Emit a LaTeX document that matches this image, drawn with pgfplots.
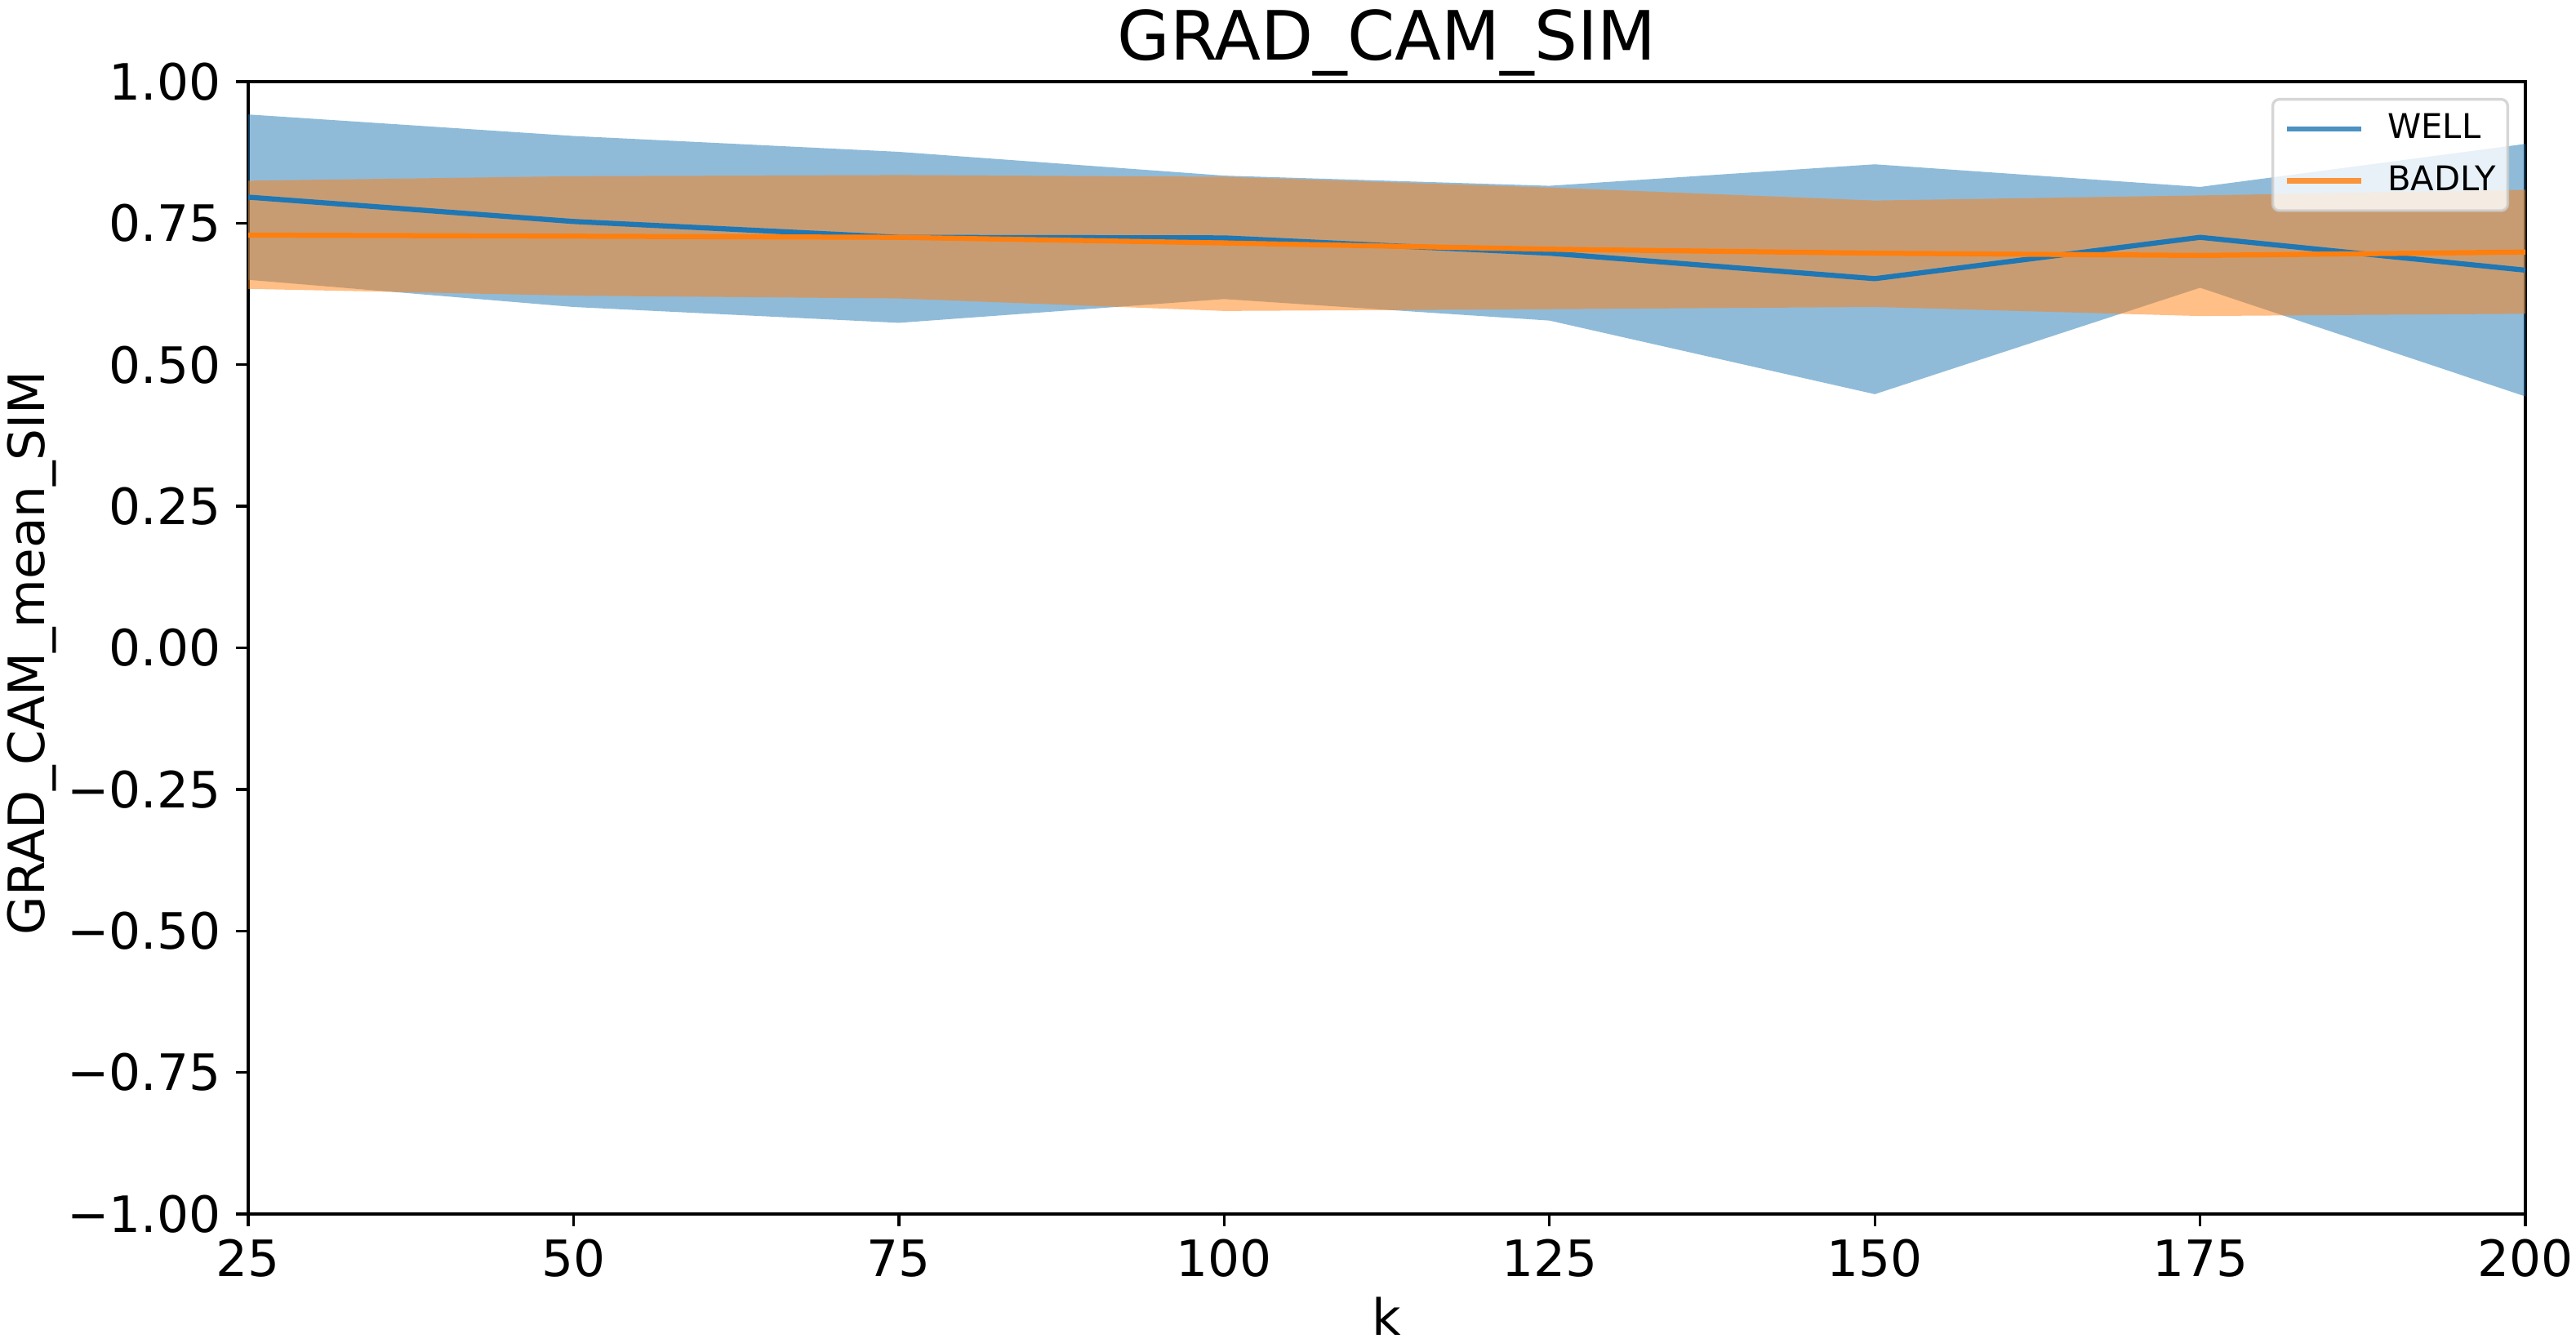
\documentclass[border=0pt]{standalone}
\usepackage{fontspec}
\setmainfont{DejaVu Sans}
\usepackage{pgfplots}
\pgfplotsset{compat=1.18}
\usepackage{pgfplotstable}
\usepgfplotslibrary{fillbetween}
\definecolor{tabblue}{HTML}{1F77B4}
\definecolor{taborange}{HTML}{FF7F0E}
\definecolor{legedge}{HTML}{CCCCCC}
\newcommand\tickfont{\fontsize{18.4bp}{22bp}\selectfont}

\pgfplotstableread{
k   wm    wu    wl    bm    bu    bl
25  0.796 0.942 0.650 0.729 0.825 0.634
50  0.753 0.904 0.602 0.727 0.833 0.622
75  0.725 0.876 0.574 0.725 0.835 0.617
100 0.724 0.834 0.616 0.715 0.832 0.595
125 0.697 0.816 0.578 0.704 0.813 0.598
150 0.652 0.854 0.448 0.697 0.790 0.602
175 0.725 0.814 0.636 0.693 0.799 0.586
200 0.667 0.890 0.444 0.699 0.809 0.590
}\datatable

\begin{document}
\begin{tikzpicture}
\begin{axis}[
  name=ax,
  scale only axis,
  width=836.7bp, height=416.1bp,
  xmin=25, xmax=200, ymin=-1, ymax=1,
  xtick={25,50,75,100,125,150,175,200},
  xticklabels={25,50,75,100,125,150,175,200},
  ytick={-1,-0.75,-0.5,-0.25,0,0.25,0.5,0.75,1},
  yticklabels={−1.00,−0.75,−0.50,−0.25,0.00,0.25,0.50,0.75,1.00},
  xtick pos=bottom, ytick pos=left,
  tick align=outside,
  major tick length=4.375bp,
  every tick/.style={black, line width=1bp},
  axis line style={black, line width=1bp},
  xticklabel style={font=\tickfont, anchor=base, inner sep=0pt, yshift=-18.6bp},
  yticklabel style={font=\tickfont, anchor=east, inner sep=0pt, xshift=-5.6bp},
  every axis title/.style={at={(axis description cs:0.5,1)}, anchor=base, yshift=7.8bp, font=\fontsize{25bp}{30bp}\selectfont},
  every axis x label/.style={at={(axis description cs:0.5,0)}, anchor=base, yshift=-44.4bp, font=\tickfont},
  every axis y label/.style={at={([xshift=-79.6bp,yshift=-1.9bp]axis description cs:0,0.5)}, rotate=90, anchor=center, font=\tickfont},
  title={GRAD\_CAM\_SIM},
  xlabel={k},
  ylabel={GRAD\_CAM\_mean\_SIM},
  legend cell align=left,
  legend image code/.code={\draw[#1, line cap=butt, rounded corners=0pt] (0bp,0bp) -- (27.3bp,0bp); \path[draw=none, fill=none] (27.3bp,0bp) -- (36.9bp,0bp);},
  legend style={at={(axis description cs:1,1)}, anchor=north east, xshift=-6bp, yshift=-6bp,
    draw=legedge, line width=1bp, rounded corners=2.4bp, fill=white, fill opacity=0.8, draw opacity=0.8, text opacity=1,
    inner xsep=4.4bp, inner ysep=5.4bp, row sep=7.9bp, column sep=0pt,
    font=\fontsize{12.5bp}{15bp}\selectfont,
    nodes={inner sep=0pt, text height=9.1bp, text depth=2bp}},
]
\addplot[name path=wu, draw=none, forget plot] table[x=k, y=wu]{\datatable};
\addplot[name path=wl, draw=none, forget plot] table[x=k, y=wl]{\datatable};
\addplot[name path=bu, draw=none, forget plot] table[x=k, y=bu]{\datatable};
\addplot[name path=bl, draw=none, forget plot] table[x=k, y=bl]{\datatable};
\addplot[fill=tabblue, fill opacity=0.5, draw=none, forget plot] fill between[of=wu and wl];
\addplot[fill=taborange, fill opacity=0.5, draw=none, forget plot] fill between[of=bu and bl];
\addplot[tabblue, line width=1.875bp] table[x=k, y=wm]{\datatable};
\addlegendentry{WELL}
\addplot[taborange, line width=1.875bp] table[x=k, y=bm]{\datatable};
\addlegendentry{BADLY}
\end{axis}
\pgfresetboundingbox
\path[use as bounding box] ([shift={(-91.2bp,-47.4bp)}]ax.south west) rectangle ([shift={(855.3bp,446.1bp)}]ax.south west);
\end{tikzpicture}
\end{document}
